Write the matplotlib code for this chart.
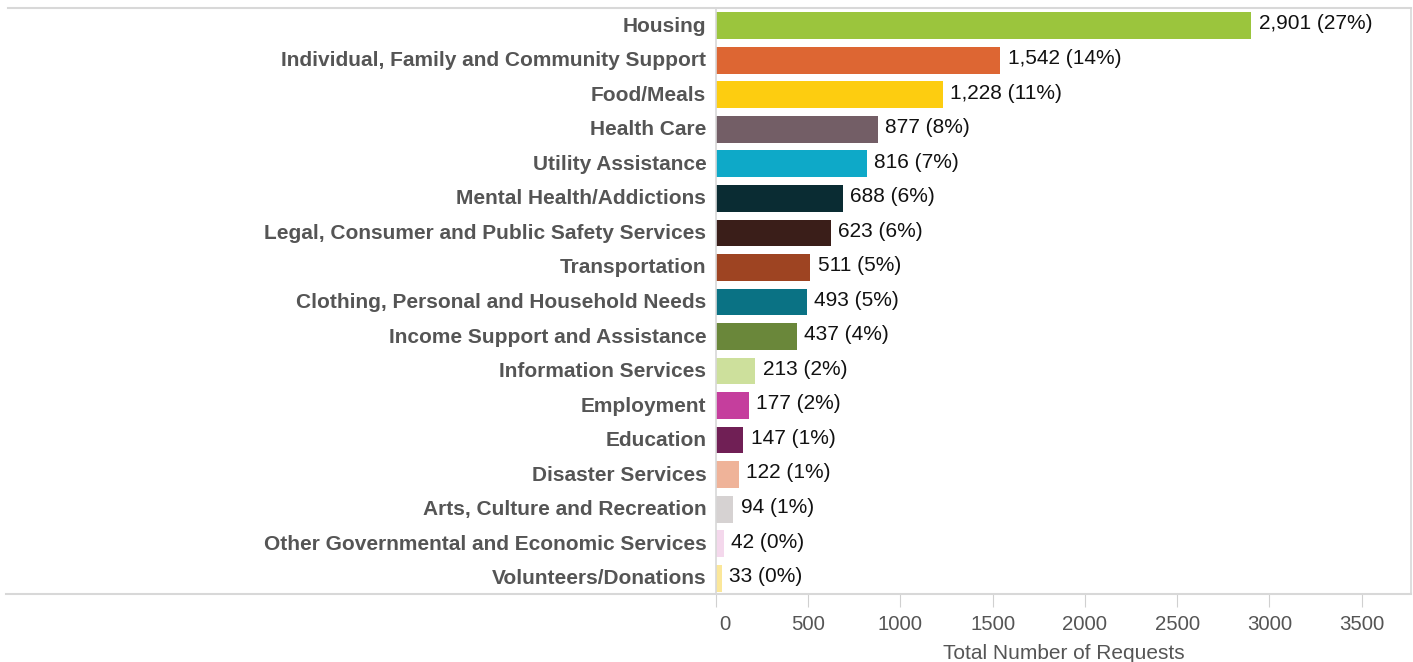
import matplotlib
matplotlib.use("Agg")
import matplotlib.pyplot as plt
from matplotlib.lines import Line2D
from matplotlib.transforms import ScaledTranslation

categories = [
    "Housing", "Individual, Family and Community Support", "Food/Meals",
    "Health Care", "Utility Assistance", "Mental Health/Addictions",
    "Legal, Consumer and Public Safety Services", "Transportation",
    "Clothing, Personal and Household Needs", "Income Support and Assistance",
    "Information Services", "Employment", "Education", "Disaster Services",
    "Arts, Culture and Recreation", "Other Governmental and Economic Services",
    "Volunteers/Donations",
]
values = [2901, 1542, 1228, 877, 816, 688, 623, 511, 493, 437, 213, 177, 147, 122, 94, 42, 33]
percents = [27, 14, 11, 8, 7, 6, 6, 5, 5, 4, 2, 2, 1, 1, 1, 0, 0]
colors = ["#9BC53D", "#DD6633", "#FDCD10", "#735E66", "#0EA9C8", "#0A2C33",
          "#3A1E19", "#9E4422", "#0A7284", "#6A873A", "#CDE09C", "#C53E9D",
          "#701F55", "#EFB399", "#D6D2D2", "#F4D8EC", "#FBE79A"]
xticks = [0, 500, 1000, 1500, 2000, 2500, 3000, 3500]
xlabel = "Total Number of Requests"

plt.rcParams['font.family'] = ['Liberation Sans', 'DejaVu Sans']

W, H = 1413, 662
fig = plt.figure(figsize=(W / 100, H / 100), dpi=100)
left, right, top, bottom = 716, 1411, 8, 594
ax = fig.add_axes([left / W, 1 - bottom / H, (right - left) / W, (bottom - top) / H])

ypos = list(range(len(categories)))
ax.barh(ypos, values, height=0.773, color=colors)
for y, v, p in zip(ypos, values, percents):
    ax.text(v + 40, y - 0.05, f"{v:,} ({p}%)", va='center', ha='left', fontsize=15, color='#111111')

ax.set_ylim(len(categories) - 0.545, -0.512)
ax.set_xlim(0, 3767)
ax.set_yticks(ypos)
ax.set_yticklabels(categories, fontsize=15, fontweight='bold', color='#555555')
ax.set_xticks(xticks)
ax.set_xticklabels([str(t) for t in xticks], fontsize=14.7, color='#555555')
ax.tick_params(axis='y', length=0, pad=7)
ax.tick_params(axis='x', length=9, color='#d0d0d0', pad=6)
ax.set_xlabel(xlabel, fontsize=15, color='#555555', labelpad=7)

# nudge category labels up slightly
for lbl in ax.get_yticklabels():
    lbl.set_transform(lbl.get_transform() + ScaledTranslation(0, 1.5 / 100, fig.dpi_scale_trans))

# the "0" label sits slightly right of its tick in the reference
lbl0 = ax.get_xticklabels()[0]
lbl0.set_transform(lbl0.get_transform() + ScaledTranslation(9 / 100, 0, fig.dpi_scale_trans))

for s in ['top', 'bottom']:
    ax.spines[s].set_visible(False)
ax.spines['right'].set_color('#d8d8d8')
ax.spines['left'].set_color('#d8d8d8')
ax.spines['right'].set_linewidth(1.2)
ax.spines['left'].set_linewidth(1.2)

# frame lines extending to the left edge
fig.add_artist(Line2D([8 / W, right / W], [1 - top / H, 1 - top / H], color='#d8d8d8', lw=1.5))
fig.add_artist(Line2D([6 / W, right / W], [1 - bottom / H, 1 - bottom / H], color='#d8d8d8', lw=1.5))

fig.savefig("out.png", dpi=100)
